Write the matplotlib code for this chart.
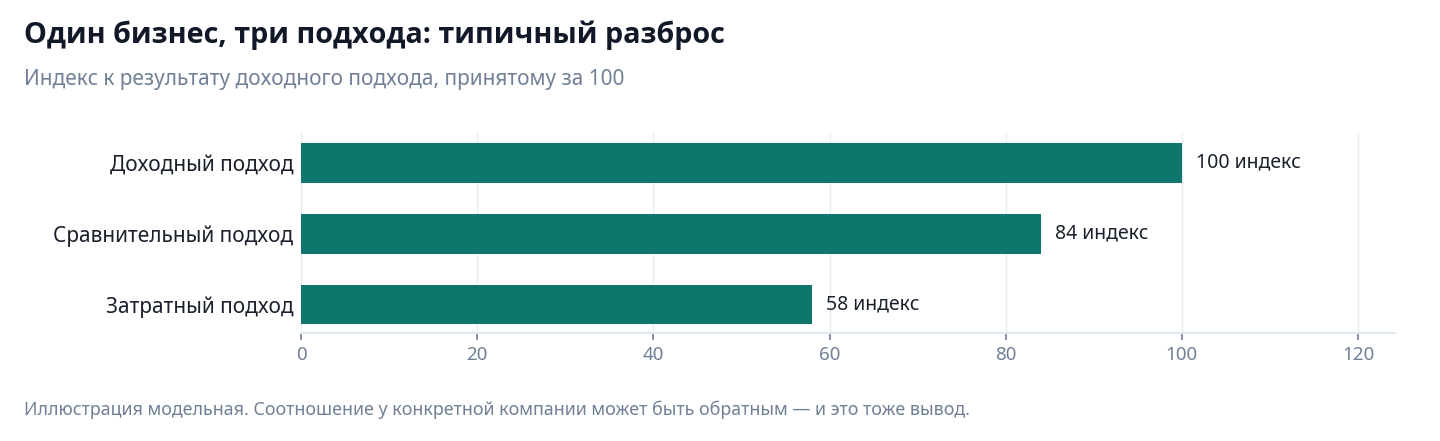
import matplotlib.pyplot as plt

plt.rcParams["font.family"] = ["Noto Sans", "DejaVu Sans"]

# data
categories = ["Доходный подход", "Сравнительный подход", "Затратный подход"]
values = [100, 84, 58]
unit = "индекс"

title = "Один бизнес, три подхода: типичный разброс"
subtitle = "Индекс к результату доходного подхода, принятому за 100"
note = "Иллюстрация модельная. Соотношение у конкретной компании может быть обратным — и это тоже вывод."

bar_color = "#0f766e"
grid_color = "#e9edf2"
muted = "#718096"

fig = plt.figure(figsize=(14.4, 4.41), dpi=100)
ax = fig.add_axes([301 / 1440, 1 - 333 / 441, (1395 - 301) / 1440, 200 / 441])

y = list(range(len(categories)))
ax.barh(y, values, height=0.56, color=bar_color, zorder=3)
for yi, v in zip(y, values):
    ax.text(v + 1.6, yi, f"{v} {unit}", va="center", ha="left",
            fontsize=14, color="#1a202c")

ax.set_yticks(y)
ax.set_yticklabels(categories, fontsize=15, color="#1a202c")
ax.set_ylim(len(categories) - 0.6, -0.42)
ax.set_xlim(0, 124.2)
ax.set_xticks([0, 20, 40, 60, 80, 100, 120])

ax.grid(axis="x", color=grid_color, linewidth=1, zorder=0)
ax.tick_params(axis="y", length=0, pad=5.5)
ax.tick_params(axis="x", length=5, width=1.2, color=muted, labelcolor=muted,
               labelsize=13.5, pad=4)
for s in ["top", "right", "left"]:
    ax.spines[s].set_visible(False)
ax.spines["bottom"].set_color("#e2e8f0")
ax.spines["bottom"].set_linewidth(1.5)

fig.text(24 / 1440, 1 - 35 / 441, title, fontsize=20.7, fontweight="bold",
         family=["Open Sans", "DejaVu Sans"], color="#111827", va="center")
fig.text(24 / 1440, 1 - 80 / 441, subtitle, fontsize=15, color=muted, va="center")
fig.text(24 / 1440, 1 - 410 / 441, note, fontsize=12.9, color=muted, va="center")

fig.savefig("out.png", dpi=100)
